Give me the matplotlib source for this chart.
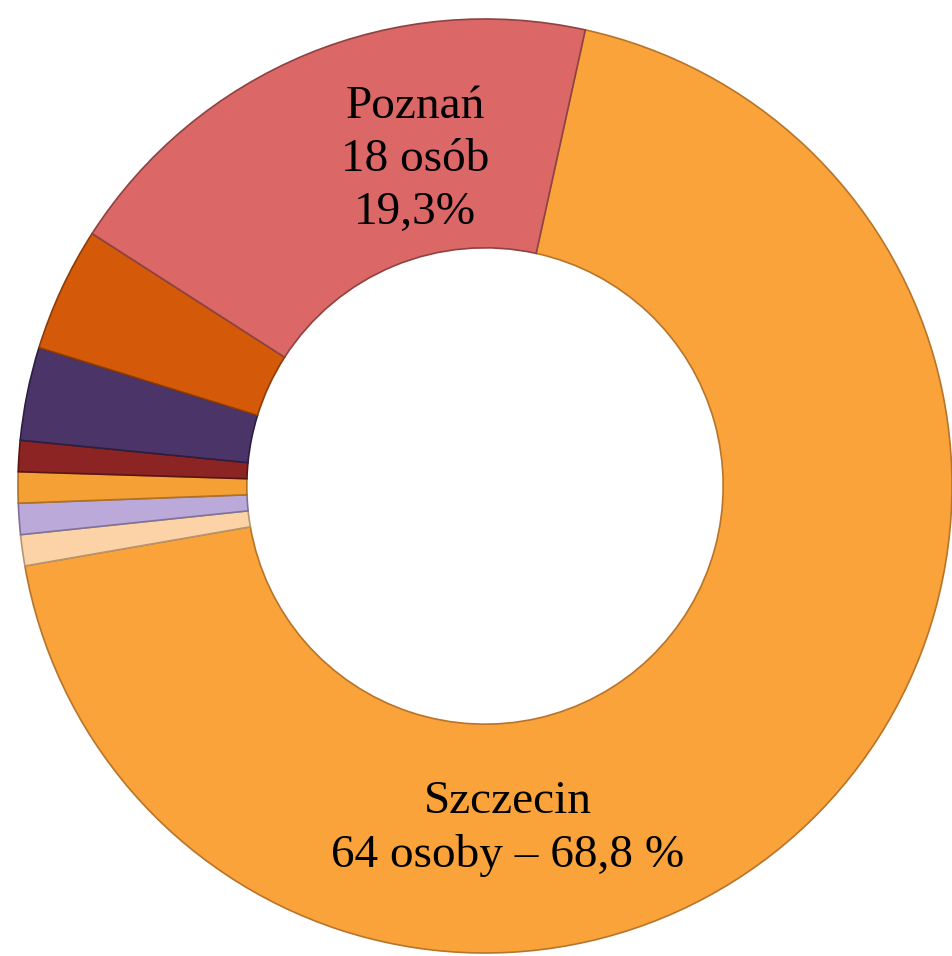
import matplotlib.pyplot as plt

# dane: liczba osób wg miejscowości (razem 93)
cities = ["Szczecin", "inne 1", "inne 2", "inne 3", "inne 4", "inne 5", "inne 6", "Poznań"]
counts = [64, 1, 1, 1, 1, 3, 4, 18]
colors = ["#F9A33A", "#FBD3A6", "#BBA9DA", "#F5A034", "#8C2424",
          "#4B3467", "#D45A0A", "#DC6767"]
edges = ["#B8742A", "#B89470", "#7F7298", "#B07022", "#5A1414",
         "#2E1E42", "#8E3C06", "#8E4242"]

labels_text = {
    "Szczecin": "Szczecin\n64 osoby – 68,8 %",
    "Poznań": "Poznań\n18 osób\n19,3%",
}

fig = plt.figure(figsize=(9.52, 9.56), dpi=100)
ax = fig.add_axes([0, 0, 1, 1])

R = 467.0
cx, cy = 485.0, 486.0
W, H = 952.0, 956.0

wedges, _ = ax.pie(counts, colors=colors, startangle=77.6, counterclock=False,
                   radius=1.0, wedgeprops=dict(width=0.49, linewidth=1.2))
for w, ec in zip(wedges, edges):
    w.set_edgecolor(ec)

ax.set_xlim(-cx / R, (W - cx) / R)
ax.set_ylim(-(H - cy) / R, cy / R)
ax.set_aspect("auto")
ax.axis("off")

font = dict(family=["Liberation Serif", "DejaVu Serif"], fontsize=34, color="black",
            ha="center", va="center", linespacing=1.32)

ax.text((415 - cx) / R, (cy - 160) / R, labels_text["Poznań"], **font)
ax.text((508 - cx) / R, (cy - 829) / R, labels_text["Szczecin"], **font)

fig.savefig("out.png", dpi=100)
